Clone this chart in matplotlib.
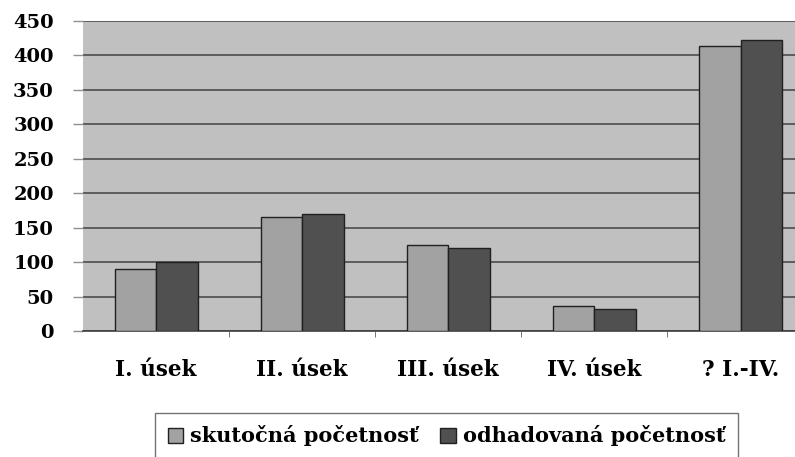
import numpy as np
import matplotlib.pyplot as plt

categories = ['I. úsek', 'II. úsek', 'III. úsek', 'IV. úsek', '? I.-IV.']
skutocna = [90, 165, 125, 37, 414]
odhadovana = [100, 170, 120, 32, 422]
yticks = [0, 50, 100, 150, 200, 250, 300, 350, 400, 450]

W, H = 795, 457
fig = plt.figure(figsize=(W / 100, H / 100), dpi=100)
ax = fig.add_axes([83 / W, (H - 331) / H, 1 - 83 / W, (331 - 21) / H])
ax.set_facecolor('#c0c0c0')

x = np.arange(len(categories))
bw = 0.284
ax.bar(x - bw / 2, skutocna, bw, color='#a2a2a2', edgecolor='#202020', linewidth=1.0,
       label='skutočná početnosť', zorder=3)
ax.bar(x + bw / 2, odhadovana, bw, color='#505050', edgecolor='#202020', linewidth=1.0,
       label='odhadovaná početnosť', zorder=3)

# last category is cut by the right edge of the picture
ax.set_xlim(-0.5, len(categories) - 0.5 - 0.127)
ax.set_ylim(0, 450)
ax.set_yticks(yticks)
ax.yaxis.grid(True, color='#555555', linewidth=1.3, zorder=1)
ax.set_axisbelow(True)

for s in ['top', 'right', 'left']:
    ax.spines[s].set_visible(False)
ax.spines['bottom'].set_color('#404040')
ax.spines['bottom'].set_linewidth(1.2)

font = dict(family='DejaVu Serif', weight='bold')
ax.set_yticklabels([str(v) for v in yticks], fontsize=14, **font)
ax.tick_params(axis='y', length=7, width=1, color='#909090', pad=14)

ax.set_xticks(x)
ax.set_xticklabels(categories, fontsize=15.5, **font)
ax.tick_params(axis='x', length=0, pad=20)
ax.set_xticks(x[:-1] + 0.5, minor=True)
ax.tick_params(axis='x', which='minor', length=4, color='#606060')

leg = fig.legend(loc='upper left', bbox_to_anchor=(155 / W, 1 - 413 / H), ncol=2,
                 prop=dict(family='DejaVu Serif', weight='bold', size=15),
                 handlelength=0.75, handleheight=0.75, handletextpad=0.35, columnspacing=1.0,
                 frameon=True, fancybox=False, borderpad=0.6, borderaxespad=0)
leg.get_frame().set_edgecolor('#505050')
leg.get_frame().set_linewidth(1.0)

fig.savefig('out.png', dpi=100)
